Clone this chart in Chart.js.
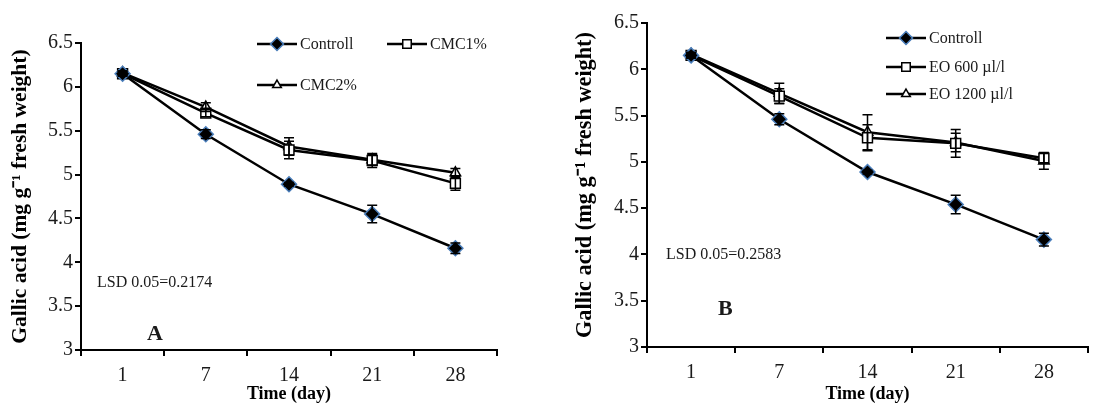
<!DOCTYPE html>
<html>
<head>
<meta charset="utf-8">
<script src="https://cdn.jsdelivr.net/npm/chart.js@4.4.0/dist/chart.umd.min.js"></script>
<style>
  body { margin: 0; background: #fff; }
  #wrap { position: relative; width: 1118px; height: 403px; }
  #chartA { position: absolute; left: 0; top: 0; }
  #chartB { position: absolute; left: 558px; top: 0; }
</style>
</head>
<body>
<div id="wrap">
  <canvas id="chartA" width="558" height="403"></canvas>
  <canvas id="chartB" width="560" height="403"></canvas>
</div>
<script>
// storage time, days
const days = ["1", "7", "14", "21", "28"];
const yMin = 3, yMax = 6.5, yStep = 0.5;

// panel A - CMC coating
const controlA = [6.15, 5.46, 4.89, 4.55, 4.16];
const controlAErr = [0.02, 0.05, 0.02, 0.10, 0.06];
const cmc1 = [6.15, 5.70, 5.28, 5.16, 4.90];
const cmc1Err = [0.03, 0.04, 0.10, 0.08, 0.08];
const cmc2 = [6.16, 5.77, 5.32, 5.17, 5.02];
const cmc2Err = [0.02, 0.05, 0.10, 0.06, 0.05];

// panel B - essential oil
const controlB = [6.15, 5.46, 4.89, 4.54, 4.16];
const controlBErr = [0.02, 0.06, 0.02, 0.10, 0.07];
const eo600 = [6.15, 5.71, 5.26, 5.20, 5.04];
const eo600Err = [0.03, 0.08, 0.14, 0.15, 0.05];
const eo1200 = [6.16, 5.74, 5.32, 5.21, 5.01];
const eo1200Err = [0.02, 0.11, 0.19, 0.10, 0.09];

const serif = "'Liberation Serif', 'Times New Roman', serif";

function controlSet(label, data, err) {
  return {
    label, data, errorBars: err,
    borderColor: "#000", borderWidth: 2.5, tension: 0,
    pointStyle: "rectRot", pointRadius: 7.5,
    pointBackgroundColor: "#000", pointBorderColor: "#4a7ebb", pointBorderWidth: 1.5
  };
}
function openSet(label, data, err, style, radius) {
  return {
    label, data, errorBars: err,
    borderColor: "#000", borderWidth: 2.5, tension: 0,
    pointStyle: style, pointRadius: radius,
    pointBackgroundColor: "#fff", pointBorderColor: "#000", pointBorderWidth: 1.5
  };
}

const extras = {
  id: "extras",
  afterDatasetsDraw(chart) {
    const ctx = chart.ctx;
    const xs = chart.scales.x, ys = chart.scales.y;
    ctx.save();
    ctx.strokeStyle = "#000";
    ctx.lineWidth = 1.5;
    chart.data.datasets.forEach(ds => {
      ds.data.forEach((v, i) => {
        const e = ds.errorBars[i];
        const px = xs.getPixelForValue(i);
        const top = ys.getPixelForValue(v + e);
        const bot = ys.getPixelForValue(v - e);
        ctx.beginPath();
        ctx.moveTo(px, top); ctx.lineTo(px, bot);
        ctx.moveTo(px - 5, top); ctx.lineTo(px + 5, top);
        ctx.moveTo(px - 5, bot); ctx.lineTo(px + 5, bot);
        ctx.stroke();
      });
    });
    ctx.restore();
  },
  afterDraw(chart, args, opts) {
    const ctx = chart.ctx;
    ctx.save();
    // legend
    opts.legend.forEach(item => {
      const ds = chart.data.datasets[item.ds];
      ctx.strokeStyle = "#000";
      ctx.lineWidth = 2.5;
      ctx.beginPath();
      ctx.moveTo(item.x, item.y);
      ctx.lineTo(item.x + 40, item.y);
      ctx.stroke();
      ctx.fillStyle = ds.pointBackgroundColor;
      ctx.strokeStyle = ds.pointBorderColor;
      ctx.lineWidth = 1.5;
      Chart.helpers.drawPoint(ctx, {
        pointStyle: ds.pointStyle, radius: ds.pointRadius - 1, rotation: 0, borderWidth: 1.5
      }, item.x + 20, item.y);
      ctx.fillStyle = "#1a1a1a";
      ctx.font = "16px " + serif;
      ctx.textBaseline = "middle";
      ctx.textAlign = "left";
      ctx.fillText(ds.label, item.x + 43, item.y + 1);
    });
    // notes
    ctx.fillStyle = "#1a1a1a";
    ctx.textBaseline = "middle";
    ctx.font = "16px " + serif;
    ctx.fillText(opts.lsd.text, opts.lsd.x, opts.lsd.y);
    ctx.font = "bold 22px " + serif;
    ctx.fillText(opts.panel.text, opts.panel.x, opts.panel.y);
    ctx.restore();
  }
};

function makeChart(id, datasets, box, extraOpts) {
  return new Chart(document.getElementById(id), {
    type: "line",
    data: { labels: days, datasets },
    plugins: [extras],
    options: {
      responsive: false,
      animation: false,
      layout: { padding: { top: box.top, right: box.right, left: 0, bottom: 0 } },
      plugins: {
        legend: { display: false },
        tooltip: { enabled: false },
        extras: extraOpts
      },
      scales: {
        x: {
          type: "category",
          offset: true,
          afterFit: s => { s.height = box.xh; },
          grid: { offset: true, drawOnChartArea: false, color: "#000", lineWidth: 2, tickLength: 6 },
          border: { color: "#000", width: 2 },
          ticks: { color: "#1a1a1a", font: { family: serif, size: 20 }, padding: 8 },
          title: {
            display: true, text: "Time (day)", color: "#000",
            font: { family: serif, size: 18, weight: "bold", lineHeight: 1 },
            padding: { top: 0, bottom: 0 }
          }
        },
        y: {
          min: yMin, max: yMax,
          afterFit: s => { s.width = box.yw; },
          grid: { drawOnChartArea: false, color: "#000", lineWidth: 2, tickLength: 6 },
          border: { color: "#000", width: 2 },
          ticks: {
            stepSize: yStep, color: "#1a1a1a", font: { family: serif, size: 20 }, padding: 2,
            callback: v => String(v)
          },
          title: {
            display: true, text: "Gallic acid (mg g\u207B\u00B9 fresh weight)", color: "#000",
            font: { family: serif, size: box.yts, weight: "bold", lineHeight: 1 },
            padding: { top: box.ytp, bottom: 0 }
          }
        }
      }
    }
  });
}

makeChart("chartA", [
  controlSet("Controll", controlA, controlAErr),
  openSet("CMC1%", cmc1, cmc1Err, "rect", 7),
  openSet("CMC2%", cmc2, cmc2Err, "triangle", 6)
], { top: 43, right: 61, xh: 53, yw: 81, ytp: 10, yts: 21.5 }, {
  legend: [{ ds: 0, x: 257, y: 44 }, { ds: 1, x: 387, y: 44 }, { ds: 2, x: 257, y: 85 }],
  lsd: { text: "LSD 0.05=0.2174", x: 97, y: 283 },
  panel: { text: "A", x: 147, y: 334 }
});

makeChart("chartB", [
  controlSet("Controll", controlB, controlBErr),
  openSet("EO 600 \u00B5l/l", eo600, eo600Err, "rect", 7),
  openSet("EO 1200 \u00B5l/l", eo1200, eo1200Err, "triangle", 6)
], { top: 23, right: 30, xh: 56, yw: 89, ytp: 16, yts: 22.3 }, {
  legend: [{ ds: 0, x: 328, y: 38 }, { ds: 1, x: 328, y: 67 }, { ds: 2, x: 328, y: 94 }],
  lsd: { text: "LSD 0.05=0.2583", x: 108, y: 255 },
  panel: { text: "B", x: 160, y: 309 }
});
</script>
</body>
</html>
